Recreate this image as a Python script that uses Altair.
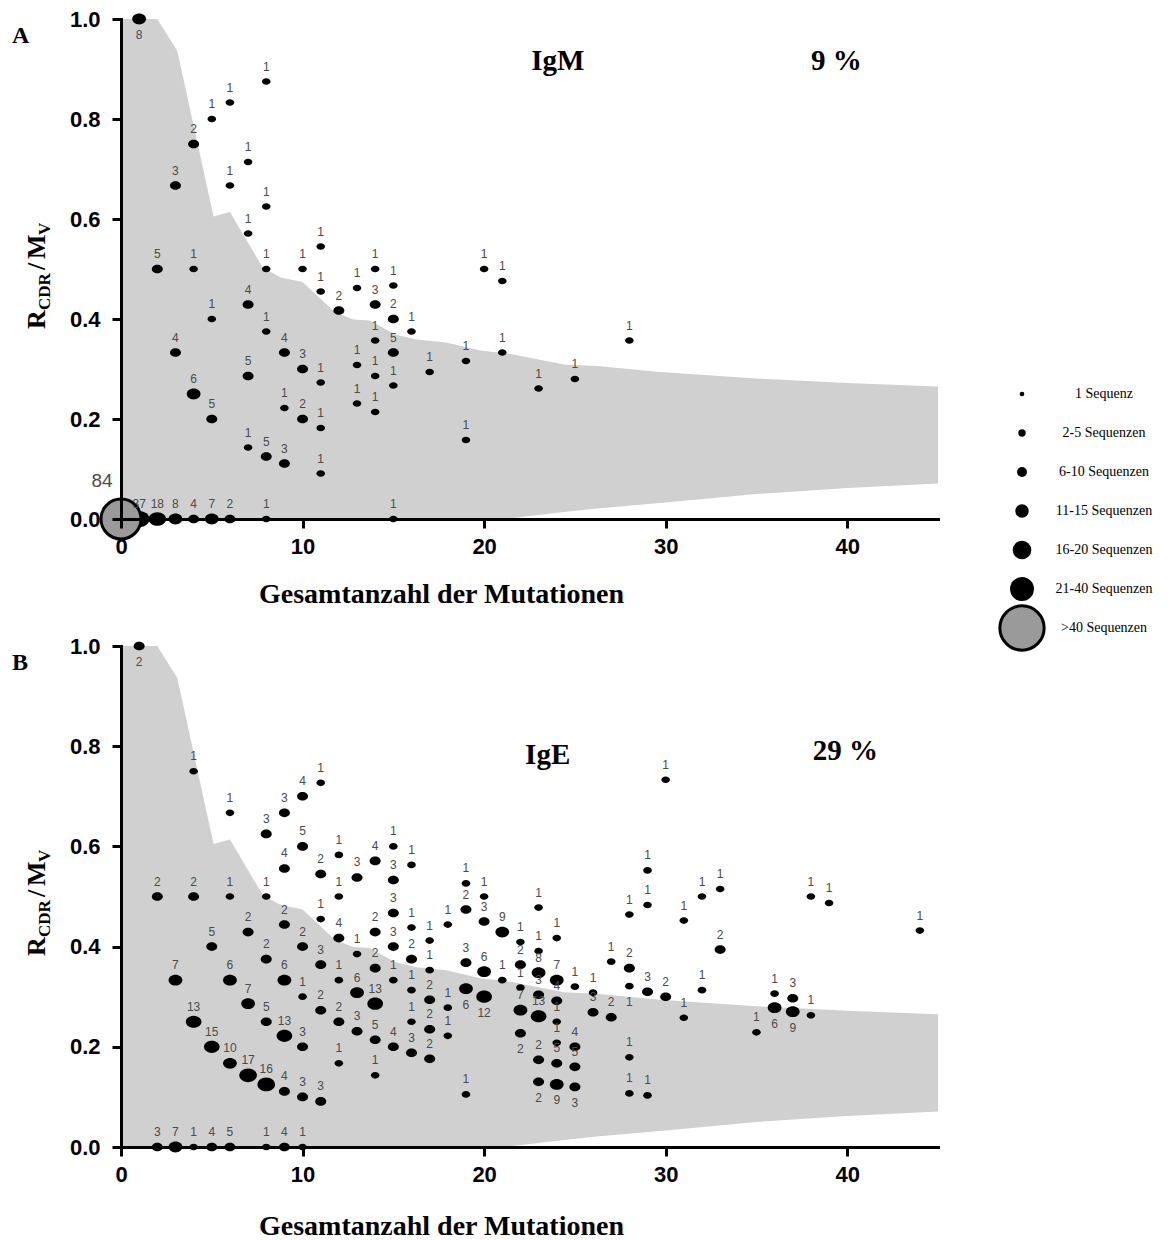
import altair as alt
import pandas as pd

# ---------------- data ----------------
# Panel A (IgM): mutation counts per column, R/M ratios and number of sequences
igm_cols = [1, 2, 3, 4, 5, 6, 7, 8, 9, 10, 11, 12, 13, 14, 15, 16, 17, 19, 20, 21, 23, 25, 28,
            0, 1, 2, 3, 4, 5, 6, 8, 15]
igm_y = [[1.0], [0.5], [0.667, 0.333], [0.75, 0.5, 0.25], [0.8, 0.4, 0.2], [0.833, 0.667],
         [0.714, 0.571, 0.429, 0.286, 0.143], [0.875, 0.625, 0.5, 0.375, 0.125],
         [0.333, 0.222, 0.111], [0.5, 0.3, 0.2], [0.545, 0.455, 0.273, 0.182, 0.091],
         [0.417], [0.462, 0.308, 0.231], [0.5, 0.429, 0.357, 0.286, 0.214],
         [0.467, 0.4, 0.333, 0.267], [0.375], [0.294], [0.316, 0.158], [0.5],
         [0.476, 0.333], [0.261], [0.28], [0.357],
         [0], [0], [0], [0], [0], [0], [0], [0], [0]]
igm_n = [[8], [5], [3, 4], [2, 1, 6], [1, 1, 5], [1, 1],
         [1, 1, 4, 5, 1], [1, 1, 1, 1, 5],
         [4, 1, 3], [1, 3, 2], [1, 1, 1, 1, 1],
         [2], [1, 1, 1], [1, 3, 1, 1, 1],
         [1, 2, 5, 1], [1], [1], [1, 1], [1],
         [1, 1], [1], [1], [1],
         [84], [37], [18], [8], [4], [7], [2], [1], [1]]

# Panel B (IgE)
ige_cols = [1, 2, 3, 4, 5, 6, 7, 8, 9, 10, 11, 12, 13, 14, 15, 16, 17, 18, 19, 20, 21, 22, 23, 24,
            25, 26, 27, 28, 29, 30, 31, 32, 33, 35, 36, 37, 38, 39, 44]
ige_y = [[1.0], [0.5, 0], [0.333, 0], [0.75, 0.5, 0.25, 0], [0.4, 0.2, 0],
         [0.667, 0.5, 0.333, 0.167, 0], [0.429, 0.286, 0.143],
         [0.625, 0.5, 0.375, 0.25, 0.125, 0],
         [0.667, 0.556, 0.444, 0.333, 0.222, 0.111, 0],
         [0.7, 0.6, 0.4, 0.3, 0.2, 0.1, 0],
         [0.727, 0.545, 0.455, 0.364, 0.273, 0.091],
         [0.583, 0.5, 0.417, 0.333, 0.25, 0.167],
         [0.538, 0.385, 0.308, 0.231],
         [0.571, 0.429, 0.357, 0.286, 0.214, 0.143],
         [0.6, 0.533, 0.467, 0.4, 0.333, 0.2],
         [0.563, 0.438, 0.375, 0.313, 0.25, 0.188],
         [0.412, 0.353, 0.294, 0.235, 0.176],
         [0.444, 0.278, 0.222],
         [0.526, 0.474, 0.368, 0.316, 0.105],
         [0.5, 0.45, 0.35, 0.3],
         [0.429, 0.333],
         [0.409, 0.364, 0.318, 0.273, 0.227],
         [0.478, 0.391, 0.348, 0.304, 0.261, 0.174, 0.13],
         [0.417, 0.333, 0.292, 0.25, 0.208, 0.167, 0.125],
         [0.32, 0.2, 0.16, 0.12],
         [0.308, 0.269], [0.37, 0.259],
         [0.464, 0.357, 0.321, 0.179, 0.107],
         [0.552, 0.483, 0.31, 0.103],
         [0.733, 0.3], [0.452, 0.258], [0.5, 0.313], [0.515, 0.394],
         [0.229], [0.306, 0.278], [0.297, 0.27], [0.5, 0.263], [0.487], [0.432]]
ige_n = [[2], [2, 3], [7, 7], [1, 2, 13, 1], [5, 15, 4],
         [1, 1, 6, 10, 5], [2, 7, 17],
         [3, 1, 2, 5, 16, 1],
         [3, 4, 2, 6, 13, 4, 4],
         [4, 5, 2, 1, 3, 3, 1],
         [1, 2, 1, 3, 2, 3],
         [1, 1, 4, 1, 2, 1],
         [3, 1, 6, 3],
         [4, 2, 2, 13, 5, 1],
         [1, 3, 3, 3, 1, 4],
         [1, 1, 2, 1, 1, 3],
         [1, 1, 2, 2, 2],
         [1, 1, 1],
         [1, 2, 3, 6, 1],
         [1, 3, 6, 12],
         [9, 1],
         [1, 2, 1, 7, 2],
         [1, 1, 8, 3, 13, 2, 2],
         [1, 7, 4, 1, 1, 5, 9],
         [1, 4, 5, 3],
         [1, 3], [1, 2],
         [1, 2, 1, 1, 1],
         [1, 1, 3, 1],
         [1, 2], [1, 1], [1, 1], [1, 2],
         [1], [1, 6], [3, 9], [1, 1], [1], [1]]
# points whose count label sits below the dot
ige_below = [(19, 0.316), (20, 0.3), (22, 0.227), (23, 0.13), (24, 0.125), (25, 0.12),
             (28, 0.321), (36, 0.278), (37, 0.27)]

# expected range (grey band)
band_x = [0, 2, 3.1, 5.1, 6, 7.8, 8.8, 10, 11.8, 12.8, 13.7, 15.1, 16.3, 17.9, 19.8, 21,
          21.6, 24.4, 26.2, 29.7, 35, 40, 45]
band_hi = [1.0, 1.0, 0.936, 0.605, 0.614, 0.503, 0.483, 0.474, 0.413, 0.399, 0.397, 0.369,
           0.359, 0.353, 0.337, 0.332, 0.329, 0.309, 0.306, 0.294, 0.281, 0.272, 0.265]
band_lo = [0, 0, 0, 0, 0, 0, 0, 0, 0, 0, 0, 0, 0, 0, 0, 0,
           0.002, 0.014, 0.021, 0.032, 0.05, 0.062, 0.071]

size_classes = ["1", "2-5", "6-10", "11-15", "16-20", "21-40", ">40"]
legend_labels = ["1 Sequenz", "2-5 Sequenzen", "6-10 Sequenzen", "11-15 Sequenzen",
                 "16-20 Sequenzen", "21-40 Sequenzen", ">40 Sequenzen"]
x_ticks = [0, 10, 20, 30, 40]
y_ticks = [0.0, 0.2, 0.4, 0.6, 0.8, 1.0]

# ---------------- helpers ----------------
ELLIPSE = "M-1,0A1,0.78,0,1,0,1,0A1,0.78,0,1,0,-1,0Z"
SANS = "Liberation Sans"
SERIF = "Liberation Serif"
LABEL_GREY = "#4a4a4a"


def size_class(n):
    if n == 1:
        return "1"
    if n <= 5:
        return "2-5"
    if n <= 10:
        return "6-10"
    if n <= 15:
        return "11-15"
    if n <= 20:
        return "16-20"
    if n <= 40:
        return "21-40"
    return ">40"


def make_df(cols, ys, ns, below):
    rows = []
    for c, yl, nl in zip(cols, ys, ns):
        for y, n in zip(yl, nl):
            rows.append({"x": c, "y": y, "n": n, "cls": size_class(n),
                         "below": bool(y >= 1.0 or (c, y) in below)})
    return pd.DataFrame(rows)


band_df = pd.DataFrame({"bx": band_x, "hi": band_hi, "lo": band_lo})


def panel(df, height, letter, iso, pct, iso_pos, pct_pos, title_y):
    xsc = alt.Scale(domain=[0, 45], nice=False, zero=False)
    ysc = alt.Scale(domain=[0, 1], nice=False, zero=False)
    xaxis = alt.Axis(values=x_ticks, grid=False, title="Gesamtanzahl der Mutationen",
                     domainColor="black", domainWidth=3, domainCap="square",
                     tickColor="black", tickWidth=3, tickSize=9,
                     labelFont=SANS, labelFontWeight="bold", labelFontSize=22,
                     labelColor="black", labelPadding=8, labelFlush=False,
                     titleFont=SERIF, titleFontWeight="bold", titleFontSize=28,
                     titleColor="black", titleX=320, titleY=title_y,
                     titleAlign="center", titleBaseline="middle", zindex=1)
    yaxis = alt.Axis(values=y_ticks, format=".1f", grid=False, title=None,
                     domainColor="black", domainWidth=3, domainCap="square",
                     tickColor="black", tickWidth=3, tickSize=9,
                     labelFont=SANS, labelFontWeight="bold", labelFontSize=22,
                     labelColor="black", labelPadding=12, labelFlush=False, zindex=1)

    def X(f):
        return alt.X(f, type="quantitative", scale=xsc, axis=xaxis)

    def Y(f):
        return alt.Y(f, type="quantitative", scale=ysc, axis=yaxis)

    band = alt.Chart(band_df).mark_area(color="#d0d0d0", opacity=1).encode(
        x=X("bx"), y=Y("hi"), y2=alt.Y2("lo"))

    base = alt.Chart(df)
    dots = base.mark_point(filled=True, shape=ELLIPSE, color="black", opacity=1,
                           strokeWidth=0).encode(
        x=X("x"), y=Y("y"),
        size=alt.Size("cls:N", legend=None,
                      scale=alt.Scale(type="ordinal", domain=size_classes[:-1],
                                      range=[74, 122, 190, 245, 310, 430]))
    ).transform_filter("datum.n <= 40")
    big = base.mark_point(filled=True, shape="circle", fill="#9a9a9a", stroke="black",
                          strokeWidth=3, opacity=1, size=1600).encode(
        x=X("x"), y=Y("y")).transform_filter("datum.n > 40")

    txt = dict(font=SANS, fontSize=12, color=LABEL_GREY)
    lab_above = base.mark_text(dy=-15, **txt).encode(
        x=X("x"), y=Y("y"), text="n:Q").transform_filter("!datum.below && datum.n <= 40")
    lab_below = base.mark_text(dy=16, **txt).encode(
        x=X("x"), y=Y("y"), text="n:Q").transform_filter("datum.below")
    lab_big = base.mark_text(dx=-19, dy=-38, font=SANS, fontSize=19,
                             color=LABEL_GREY).encode(
        x=X("x"), y=Y("y"), text="n:Q").transform_filter("datum.n > 40")

    tdf = pd.DataFrame({"t": [iso, pct], "tx": [iso_pos[0], pct_pos[0]],
                        "ty": [iso_pos[1], pct_pos[1]]})
    titles = alt.Chart(tdf).mark_text(font=SERIF, fontWeight="bold", fontSize=29,
                                      color="black").encode(
        x=X("tx"), y=Y("ty"), text="t:N")

    one = pd.DataFrame({"k": [0]})
    letter_mark = alt.Chart(one).mark_text(text=letter, font=SERIF, fontWeight="bold",
                                           fontSize=24, align="left", baseline="middle",
                                           color="black").encode(
        x=alt.value(-109), y=alt.value(17))

    def ytitle(s, size, xx, yy):
        return alt.Chart(one).mark_text(text=s, font=SERIF, fontWeight="bold",
                                        fontSize=size, angle=270, align="left",
                                        baseline="alphabetic", color="black").encode(
            x=alt.value(xx), y=alt.value(yy))

    yt = [ytitle("R", 26, -76, 310), ytitle("CDR", 17, -71, 291),
          ytitle("/", 26, -76, 251), ytitle("M", 26, -76, 240),
          ytitle("V", 17, -71, 216)]

    return alt.layer(band, dots, big, lab_above, lab_below, lab_big, titles,
                     letter_mark, *yt).properties(width=817, height=height)


igm_df = make_df(igm_cols, igm_y, igm_n, [])
ige_df = make_df(ige_cols, ige_y, ige_n, ige_below)

top = panel(igm_df, 500, "A", "IgM", "9 %", (24.06, 0.916), (39.4, 0.916), 75)
bottom = panel(ige_df, 501, "B", "IgE", "29 %", (23.5, 0.782), (39.9, 0.79), 79)

# ---------------- legend ----------------
leg_df = pd.DataFrame({"label": legend_labels, "cls": size_classes,
                       "idx": list(range(len(size_classes)))})
ly = alt.Y("idx:Q", axis=None,
           scale=alt.Scale(domain=[-9.615, 6.282], reverse=True, nice=False, zero=False))
leg_base = alt.Chart(leg_df)
leg_dots = leg_base.mark_point(filled=True, shape="circle", color="black", opacity=1,
                               strokeWidth=0).encode(
    x=alt.value(28), y=ly,
    size=alt.Size("cls:N", legend=None,
                  scale=alt.Scale(type="ordinal", domain=size_classes[:-1],
                                  range=[22, 55, 100, 180, 346, 573]))
).transform_filter("datum.idx < 6")
leg_big = leg_base.mark_point(filled=True, shape="circle", fill="#9a9a9a", stroke="black",
                              strokeWidth=3, opacity=1, size=1963).encode(
    x=alt.value(28), y=ly).transform_filter("datum.idx == 6")
leg_txt = leg_base.mark_text(font=SERIF, fontSize=14, color="black", align="center").encode(
    x=alt.value(110), y=ly, text="label:N")
legend = alt.layer(leg_dots, leg_big, leg_txt).properties(width=160, height=620)

chart = alt.hconcat(
    alt.vconcat(top, bottom, spacing=27),
    legend, spacing=55
).resolve_scale(size="independent").properties(
    padding={"left": 4, "top": 0, "right": 2, "bottom": 2}
).configure_view(stroke=None)

chart.save("out.html", embed_options={"renderer": "svg", "actions": False})
